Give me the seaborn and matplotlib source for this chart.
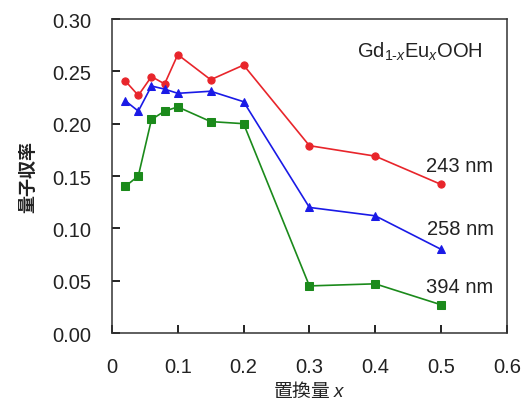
import matplotlib
matplotlib.use("Agg")
import matplotlib.pyplot as plt
import seaborn as sns

# Substitution amount x
x_vals = [0.02, 0.04, 0.06, 0.08, 0.10, 0.15, 0.20, 0.30, 0.40, 0.50]

# Quantum efficiency at each excitation wavelength
qe_243 = [0.241, 0.227, 0.245, 0.238, 0.266, 0.242, 0.256, 0.179, 0.169, 0.142]
qe_258 = [0.222, 0.212, 0.236, 0.233, 0.229, 0.231, 0.221, 0.120, 0.112, 0.080]
qe_394 = [0.140, 0.150, 0.204, 0.212, 0.216, 0.202, 0.200, 0.045, 0.047, 0.027]

series_labels = ["243 nm", "258 nm", "394 nm"]
x_ticks = [0, 0.1, 0.2, 0.3, 0.4, 0.5, 0.6]
x_ticklabels = ["0", "0.1", "0.2", "0.3", "0.4", "0.5", "0.6"]
y_ticks = [0, 0.05, 0.10, 0.15, 0.20, 0.25, 0.30]

sns.set_style("ticks")
plt.rcParams["font.family"] = ["Liberation Sans", "Noto Sans CJK JP", "DejaVu Sans"]
plt.rcParams["mathtext.fontset"] = "custom"
plt.rcParams["mathtext.rm"] = "Liberation Sans"
plt.rcParams["mathtext.it"] = "Liberation Sans:italic"

fig = plt.figure(figsize=(5.29, 4.06), dpi=100)
ax = fig.add_axes([0.2117, 0.1773, 0.7463, 0.7734])

styles = [("#e8252b", "o", 5.2), ("#1a1ae6", "^", 5.2), ("#1b8a1b", "s", 6.4)]
for y, (c, m, ms) in zip([qe_243, qe_258, qe_394], styles):
    sns.lineplot(x=x_vals, y=y, ax=ax, color=c, marker=m, markersize=ms,
                 markeredgecolor=c, linewidth=1.2)

ax.set_xlim(0, 0.6)
ax.set_ylim(0, 0.30)
ax.set_xticks(x_ticks)
ax.set_xticklabels(x_ticklabels)
ax.set_yticks(y_ticks)
ax.set_yticklabels([f"{v:.2f}" for v in y_ticks])
ax.tick_params(axis="both", which="major", direction="in", length=6, width=1.4,
               color="#222222", labelsize=14.5, labelcolor="#222222",
               bottom=True, left=True, top=False, right=False)
ax.tick_params(axis="x", pad=17)
ax.tick_params(axis="y", pad=15)
for s in ax.spines.values():
    s.set_linewidth(1.1)
    s.set_color("#333333")
    s.set_zorder(1)

ax.text(0.580, 0.1605, series_labels[0], ha="right", va="center", fontsize=14.5, color="#222222")
ax.text(0.580, 0.1003, series_labels[1], ha="right", va="center", fontsize=14.5, color="#222222")
ax.text(0.580, 0.0449, series_labels[2], ha="right", va="center", fontsize=14.5, color="#222222")
ax.text(0.5636, 0.2694, "Gd$_{1\u2010x}$Eu$_x$OOH", ha="right", va="center",
        fontsize=14.5, color="#222222")

ax.set_xlabel("置換量 $x$", fontsize=13.5, color="#222222",
              family=["Noto Sans CJK JP", "Liberation Sans"], labelpad=3)
ax.set_ylabel("量子収率", fontsize=13, color="#222222", fontweight="bold",
              family=["Noto Sans CJK JP", "Liberation Sans"], labelpad=11)

fig.savefig("out.png", dpi=100)
